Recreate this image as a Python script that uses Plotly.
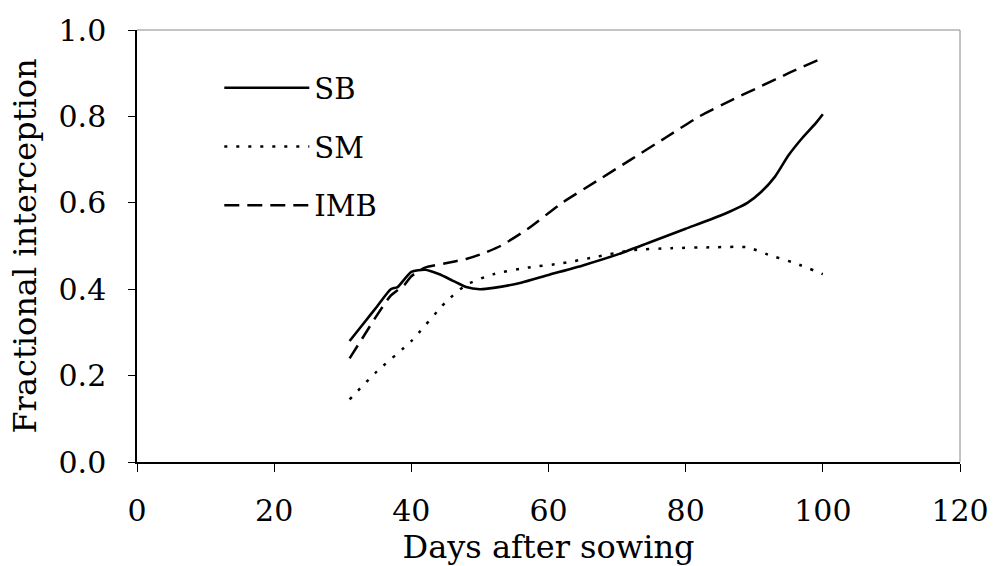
import plotly.graph_objects as go

# Fractional light interception over the season for three cropping systems
sb_days = [31, 33, 35, 37, 38, 40, 42, 44, 46, 48, 50, 52, 56, 60, 65, 70, 75, 80, 85, 89, 91, 93, 95, 97, 99, 100]
sb_vals = [0.28, 0.32, 0.36, 0.40, 0.405, 0.44, 0.445, 0.435, 0.42, 0.405, 0.40, 0.403, 0.415, 0.433,
           0.455, 0.48, 0.51, 0.54, 0.57, 0.60, 0.625, 0.66, 0.71, 0.75, 0.785, 0.805]

sm_days = [31, 35, 40, 45, 48, 52, 57, 62, 67, 72, 78, 84, 89, 92, 96, 100]
sm_vals = [0.145, 0.21, 0.28, 0.37, 0.41, 0.435, 0.45, 0.46, 0.475, 0.49, 0.495, 0.497, 0.497, 0.48, 0.46, 0.435]

imb_days = [31, 33, 35, 37, 39, 40, 42, 45, 48, 50, 53, 57, 62, 67, 72, 77, 82, 87, 91, 95, 100]
imb_vals = [0.24, 0.29, 0.34, 0.385, 0.41, 0.43, 0.45, 0.46, 0.47, 0.48, 0.50, 0.54, 0.60, 0.65,
            0.70, 0.75, 0.80, 0.84, 0.87, 0.90, 0.935]

x_ticks = [0, 20, 40, 60, 80, 100, 120]
y_ticks = [0.0, 0.2, 0.4, 0.6, 0.8, 1.0]
y_tick_text = ["0.0", "0.2", "0.4", "0.6", "0.8", "1.0"]

FONT = "DejaVu Serif"

fig = go.Figure()
fig.add_trace(go.Scatter(x=sb_days, y=sb_vals, name="SB", mode="lines", legendgroup="sb",
                         line=dict(color="black", width=2.6, shape="spline", smoothing=0.6)))
fig.add_trace(go.Scatter(x=sm_days, y=sm_vals, name="SM", mode="lines", legendgroup="sm",
                         line=dict(color="black", width=2.5, dash="3px,9px", shape="spline", smoothing=0.6)))
fig.add_trace(go.Scatter(x=imb_days, y=imb_vals, name="IMB", mode="lines", legendgroup="imb",
                         line=dict(color="black", width=2.5, dash="15px,8px", shape="spline", smoothing=0.6)))

# thin grey frame on the top and right edges of the plot area
fig.add_shape(type="line", xref="paper", yref="paper", x0=0, x1=1, y0=1, y1=1,
              line=dict(color="#888888", width=1))
fig.add_shape(type="line", xref="paper", yref="paper", x0=1, x1=1, y0=0, y1=1,
              line=dict(color="#888888", width=1))

fig.update_layout(
    width=1001, height=566,
    margin=dict(l=137, r=38, t=24, b=104),
    paper_bgcolor="white", plot_bgcolor="white",
    font=dict(family=FONT, size=30, color="black"),
    showlegend=True,
    legend=dict(x=0.1, y=0.925, xanchor="left", yanchor="top",
                bgcolor="rgba(0,0,0,0)", itemwidth=85,
                font=dict(family=FONT, size=29), tracegroupgap=18),
    xaxis=dict(range=[0, 120], tickvals=x_ticks, showgrid=False, zeroline=False,
               showline=True, linecolor="black", linewidth=1.5,
               ticks="outside", ticklen=8, tickcolor="black", ticklabelstandoff=13,
               tickfont=dict(family=FONT, size=30),
               title=dict(text="Days after sowing", font=dict(family=FONT, size=32), standoff=0)),
    yaxis=dict(range=[0, 1], tickvals=y_ticks, ticktext=y_tick_text, showgrid=False, zeroline=False,
               showline=True, linecolor="black", linewidth=1.5,
               ticks="outside", ticklen=7, tickcolor="black", ticklabelstandoff=16,
               tickfont=dict(family=FONT, size=30),
               title=dict(text="Fractional interception", font=dict(family=FONT, size=32), standoff=12)),
)

fig.write_html("out.html")
